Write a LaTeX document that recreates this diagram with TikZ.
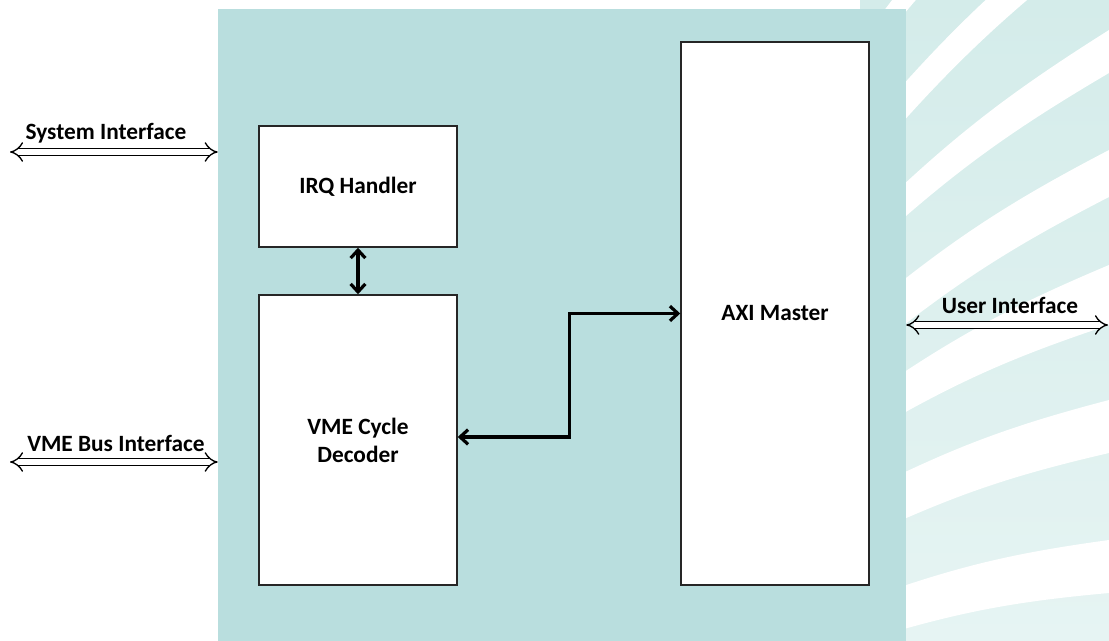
\documentclass[tikz,border=0pt]{standalone}
\usepackage{fontspec}
\setmainfont{Carlito}
\usetikzlibrary{arrows.meta,calc}
\definecolor{coreteal}{RGB}{185,222,222}
\definecolor{stripetop}{RGB}{212,236,234}
\definecolor{stripebot}{RGB}{230,244,243}

\begin{document}
\begin{tikzpicture}[x=0.75pt, y=-0.75pt]
  \tikzstyle{block}=[rectangle, draw=black!85, fill=white, line width=1.1pt, font=\fontsize{17.5}{21}\selectfont\bfseries, align=center]
  \tikzstyle{busarrow}=[double=white, double distance=4.2pt, line width=1pt, {Implies}-{Implies}]
  \tikzstyle{link}=[line width=2.4pt, {Straight Barb[length=6pt,width=11pt]}-{Straight Barb[length=6pt,width=11pt]}]
  \tikzstyle{iflabel}=[font=\fontsize{17.5}{21}\selectfont\bfseries]

  \useasboundingbox (0,0) rectangle (1109,641);

  % stripes behind the right side
  \begin{scope}
    \clip (860,0) rectangle (1109,641);
    \shade[top color=stripetop, bottom color=stripebot] (860,0) rectangle (1109,641);
    \foreach \la/\lb/\ra/\rb in {43/68/-231/-186, 134/171/-103/-66, 226/257/30/73, 315/360/150/197, 402/438/265/325, 494/539/400/453, 601/642/540/593}
      \fill[white] (860,\la) to[bend left=6] (1109,\ra) -- (1109,\rb) to[bend right=6] (860,\lb) -- cycle;
  \end{scope}

  \node[rectangle, fill=coreteal, minimum width=516pt, minimum height=474pt, inner sep=0] (core) at (562,325) {};

  \node[block, minimum width=148.5pt, minimum height=90.75pt] (irq) at (358,186.5) {IRQ Handler};
  \node[block, minimum width=148.5pt, minimum height=217.5pt] (vme) at (358,440) {VME Cycle\\Decoder};
  \node[block, minimum width=141pt, minimum height=407.25pt] (axi) at (775,313.5) {AXI Master};

  \draw[link] (irq.south) -- (vme.north);
  \draw[link] ($(vme.east)+(0,-3)$) -- ++(112,0) |- (axi.west);

  % external interfaces
  \coordinate (sysend) at (10,152);
  \draw[busarrow] (sysend) -- (sysend -| core.west);
  \node[iflabel] (syslabel) at (106,133) {System Interface};

  \coordinate (vmebusend) at (10,462);
  \draw[busarrow] (vmebusend) -- (vmebusend -| core.west);
  \node[iflabel] (vmebuslabel) at (116,443) {VME Bus Interface};

  \coordinate (userend) at (1108,325);
  \draw[busarrow] (core.east |- userend) -- (userend);
  \node[iflabel] (userlabel) at (1010,305) {User Interface};
\end{tikzpicture}
\end{document}
